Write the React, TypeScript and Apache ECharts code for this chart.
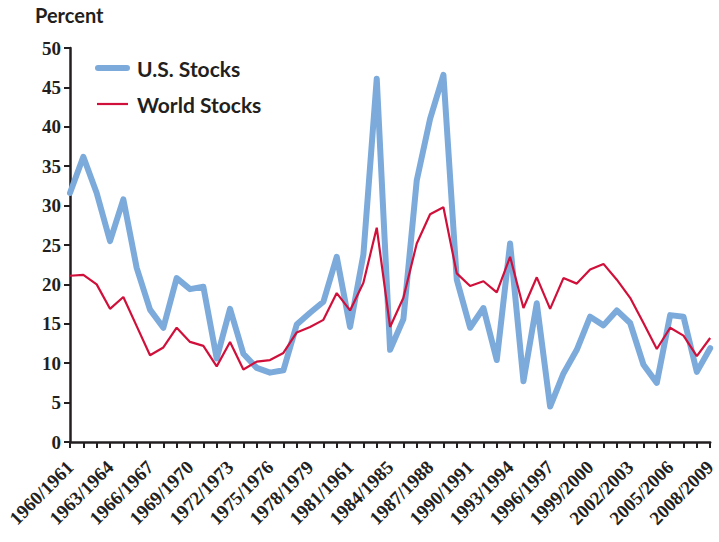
import React, { useEffect, useRef } from "react";
import * as echarts from "echarts";

const categories = [
  "1960/1961", "1961/1962", "1962/1963", "1963/1964", "1964/1965", "1965/1966", "1966/1967",
  "1967/1968", "1968/1969", "1969/1970", "1970/1971", "1971/1972", "1972/1973", "1973/1974",
  "1974/1975", "1975/1976", "1976/1977", "1977/1978", "1978/1979", "1979/1980", "1980/1981",
  "1981/1961", "1982/1983", "1983/1984", "1984/1985", "1985/1986", "1986/1987", "1987/1988",
  "1988/1989", "1989/1990", "1990/1991", "1991/1992", "1992/1993", "1993/1994", "1994/1995",
  "1995/1996", "1996/1997", "1997/1998", "1998/1999", "1999/2000", "2000/2001", "2001/2002",
  "2002/2003", "2003/2004", "2004/2005", "2005/2006", "2006/2007", "2007/2008", "2008/2009",
];

const usStocks = [
  31.6, 36.2, 31.6, 25.5, 30.8, 22.1, 16.8, 14.5, 20.8, 19.4, 19.7, 10.6, 16.9, 11.2, 9.4,
  8.8, 9.1, 14.9, 16.4, 17.8, 23.5, 14.6, 23.8, 46.1, 11.7, 15.6, 33.2, 41.0, 46.6, 20.6,
  14.5, 17.0, 10.4, 25.2, 7.7, 17.6, 4.5, 8.7, 11.7, 15.9, 14.8, 16.7, 15.1, 9.8, 7.5,
  16.1, 15.9, 8.9, 11.9,
];

const worldStocks = [
  21.1, 21.2, 20.0, 16.9, 18.4, 14.7, 11.0, 12.0, 14.5, 12.7, 12.2, 9.6, 12.7, 9.2, 10.2,
  10.4, 11.3, 13.9, 14.6, 15.5, 18.9, 16.7, 20.2, 27.2, 14.6, 18.3, 25.2, 28.9, 29.8, 21.4,
  19.8, 20.4, 19.0, 23.5, 17.0, 20.9, 16.9, 20.8, 20.1, 21.9, 22.6, 20.6, 18.3, 15.1, 11.8,
  14.5, 13.5, 10.9, 13.2,
];

const yTicks = { min: 0, max: 50, interval: 5 };
const axisTitle = "Percent";
const seriesNames = ["U.S. Stocks", "World Stocks"];

const INK = "#231f20";
const BLUE = "#7cabdb";
const RED = "#d0103a";

export default function App() {
  const ref = useRef<HTMLDivElement>(null);
  useEffect(() => {
    if (!ref.current) return;
    const chart = echarts.init(ref.current, undefined, { renderer: "svg" });
    chart.setOption({
      animation: false,
      backgroundColor: "#ffffff",
      grid: { left: 70, right: 7, top: 48, bottom: 100, containLabel: false },
      graphic: [
        {
          type: "text",
          left: 35,
          top: 5,
          style: { text: axisTitle, font: "bold 20px Lato", fill: INK },
        },
        {
          type: "line",
          shape: { x1: 98, y1: 68, x2: 127, y2: 68 },
          style: { stroke: BLUE, lineWidth: 6, lineCap: "round" },
        },
        {
          type: "text",
          x: 137,
          y: 68,
          style: {
            text: seriesNames[0],
            font: "bold 21px Lato",
            fill: INK,
            verticalAlign: "middle",
            align: "left",
          },
        },
        {
          type: "line",
          shape: { x1: 97, y1: 104, x2: 128, y2: 104 },
          style: { stroke: RED, lineWidth: 2.2 },
        },
        {
          type: "text",
          x: 137,
          y: 104,
          style: {
            text: seriesNames[1],
            font: "bold 21px Lato",
            fill: INK,
            verticalAlign: "middle",
            align: "left",
          },
        },
      ],
      xAxis: {
        type: "category",
        data: categories,
        boundaryGap: false,
        axisLine: { lineStyle: { color: INK, width: 2.5 } },
        axisTick: { interval: 0, length: 6, lineStyle: { color: INK, width: 2 } },
        axisLabel: {
          interval: 2,
          rotate: 45,
          margin: 22,
          fontFamily: "Liberation Serif",
          fontWeight: "bold",
          fontSize: 19,
          color: INK,
        },
      },
      yAxis: {
        type: "value",
        min: yTicks.min,
        max: yTicks.max,
        interval: yTicks.interval,
        splitLine: { show: false },
        axisLine: { show: true, lineStyle: { color: INK, width: 2.5 } },
        axisTick: { show: true, length: 6, lineStyle: { color: INK, width: 2 } },
        axisLabel: {
          margin: 9,
          fontFamily: "Liberation Serif",
          fontWeight: "bold",
          fontSize: 19,
          color: INK,
        },
      },
      series: [
        {
          name: seriesNames[0],
          type: "line",
          data: usStocks,
          symbol: "none",
          color: BLUE,
          lineStyle: { color: BLUE, width: 6, join: "round", cap: "round" },
          z: 2,
        },
        {
          name: seriesNames[1],
          type: "line",
          data: worldStocks,
          symbol: "none",
          color: RED,
          lineStyle: { color: RED, width: 2.2 },
          z: 3,
        },
      ],
    });
    return () => chart.dispose();
  }, []);
  return <div ref={ref} style={{ width: 719, height: 542, position: "absolute", left: 0, top: 0 }} />;
}
